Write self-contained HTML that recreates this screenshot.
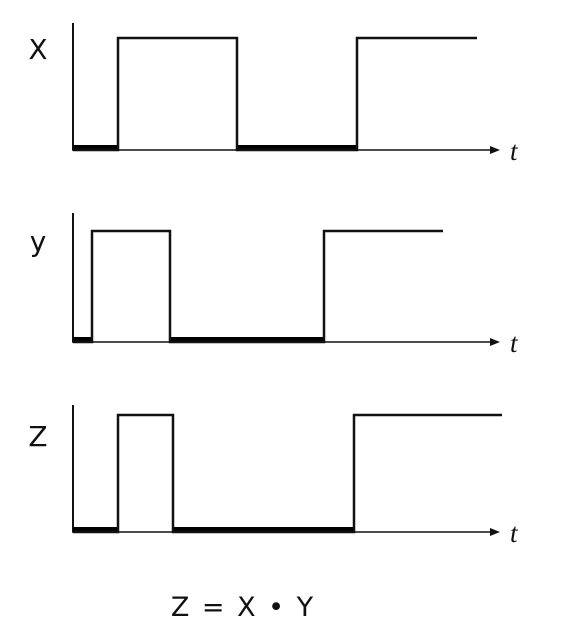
<!DOCTYPE html>
<html><head><meta charset="utf-8"><style>
html,body{margin:0;padding:0;background:#fff;}
svg{display:block;}
</style></head><body>
<svg id="c" width="580" height="640" xmlns="http://www.w3.org/2000/svg"></svg>
<script>
// signal transitions (time units), initial level low
const signalNames = ["X", "y", "Z"];
const xEdges = [45, 164, 284];
const yEdges = [19, 97, 251];
const zEdges = [45, 100, 281];
const signalEnds = [404, 370, 429];
const levels = [0, 1];
const edgesList = [xEdges, yEdges, zEdges];
const panelBase = [150, 342, 532];
const panelHigh = [38, 231, 415];
const panelTop = [23, 213, 405];

const NS = "http://www.w3.org/2000/svg";
const svg = document.getElementById("c");
function xs(t){ return 73 + t; }
function ys(p, v){ return panelBase[p] + (panelHigh[p] - panelBase[p]) * v; }
function mk(tag, attrs){ const e = document.createElementNS(NS, tag); for (const k in attrs) e.setAttribute(k, attrs[k]); svg.appendChild(e); return e; }

for (let p = 0; p < 3; p++) {
  const b = panelBase[p];
  const ax = mk("line", {x1: 73, y1: panelTop[p], x2: 73, y2: b, stroke: "#111", "stroke-width": 2});
  
  
  const bx = mk("line", {x1: 72, y1: b, x2: 492, y2: b, stroke: "#111", "stroke-width": 1.5});
  
  
  const ar = mk("polygon", {points: `490,${b-4} 500,${b} 490,${b+4}`, fill: "#111"});
  
  
  const tl = mk("text", {x: 510, y: b + 10, "font-family": "Liberation Serif, serif", "font-style": "italic", "font-size": 27, fill: "#111"});
  tl.textContent = "t";
  
  
  const sl = mk("text", {x: 38, y: [59, 251, 446][p], "text-anchor": "middle", "font-family": "DejaVu Sans, sans-serif", "font-size": 28, fill: "#111"});
  sl.textContent = signalNames[p];
  
  

  const edges = edgesList[p];
  let lvl = levels[0];
  let prev = 0;
  let d = `M${xs(0)},${ys(p, lvl)}`;
  const pts = [0].concat(edges).concat([signalEnds[p]]);
  for (let i = 1; i < pts.length; i++) {
    const t = pts[i];
    if (lvl === 0) {
      const r = mk("rect", {x: xs(prev), y: b - 5, width: xs(t) - xs(prev), height: 5, fill: "#000"});
      
      
    }
    d += ` L${xs(t)},${ys(p, lvl)}`;
    if (i < pts.length - 1) { lvl = 1 - lvl; d += ` L${xs(t)},${ys(p, lvl)}`; }
    prev = t;
  }
  const w = mk("path", {d: d, fill: "none", stroke: "#111", "stroke-width": 2.5});
  
  
}
const eq = mk("text", {x: 243, y: 616, "text-anchor": "middle", "font-family": "DejaVu Sans, sans-serif", "font-size": 27, fill: "#111", "letter-spacing": "2", "xml:space": "preserve"});
eq.textContent = "Z = X • Y";


</script>
</body></html>
